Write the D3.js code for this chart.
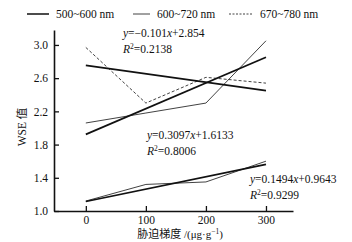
<!DOCTYPE html>
<html>
<head>
<meta charset="utf-8">
<script src="https://cdn.jsdelivr.net/npm/d3@7"></script>
<style>
    body { margin: 0; background: #fff; }
    svg { display: block; }
    svg text { font-family: "Liberation Serif", "Times New Roman", "Noto Sans CJK SC", serif; fill: #111; }
    .axis path, .axis line { stroke: #111; }
</style>
</head>
<body>
<div id="chart-area"></div>
<script>
// stress gradient levels
let doses = [0, 100, 200, 300];
let seriesNames = ["500~600 nm", "600~720 nm", "670~780 nm"];

// measured WSE values
let wse500 = [1.12, 1.32, 1.35, 1.60];
let wse600 = [2.06, 2.18, 2.30, 3.05];
let wse670 = [2.97, 2.30, 2.61, 2.54];

// fitted lines, value at dose 0 and dose 300
let trendEnds = [0, 300];
let fit500 = [1.114, 1.562];
let fit600 = [1.923, 2.852];
let fit670 = [2.753, 2.450];

let eq670 = ["y=−0.101x+2.854", "0.2138"];
let eq600 = ["y=0.3097x+1.6133", "0.8006"];
let eq500 = ["y=0.1494x+0.9643", "0.9299"];

let yTicks = [1.0, 1.4, 1.8, 2.2, 2.6, 3.0];

let width = 352, height = 242;

let svg = d3.select("#chart-area").append("svg")
    .attr("width", width)
    .attr("height", height);

let x = d3.scaleLinear().domain([-53, 345]).range([54, 293]);
let y = d3.scaleLinear().domain([1, 3.18]).range([211, 30]);

// axes
let xAxis = d3.axisBottom(x).tickValues(doses).tickSize(-5).tickSizeOuter(0).tickPadding(5);
let yAxis = d3.axisLeft(y).tickValues(yTicks).tickFormat(d3.format(".1f")).tickSize(-5).tickSizeOuter(0).tickPadding(6);

svg.append("g")
    .attr("class", "axis x-axis")
    .attr("transform", "translate(0," + y(1) + ")")
    .call(xAxis);

svg.append("g")
    .attr("class", "axis y-axis")
    .attr("transform", "translate(" + x(-53) + ",0)")
    .call(yAxis);

svg.selectAll(".axis").attr("font-family", null);
svg.selectAll(".axis path").attr("stroke-width", 1.6);
svg.selectAll(".axis line").attr("stroke-width", 1.3);
svg.selectAll(".axis text").style("font-size", "11.5px");

// axis titles
svg.append("text")
    .attr("x", 180)
    .attr("y", 238)
    .attr("text-anchor", "middle")
    .style("font-size", "11px")
    .html('胁迫梯度 /(μg·g<tspan baseline-shift="super" font-size="7.5px">−1</tspan>)');

svg.append("text")
    .attr("transform", "translate(26,127) rotate(-90)")
    .attr("text-anchor", "middle")
    .style("font-size", "11.5px")
    .text("WSE 值");

let line = d3.line()
    .x(d => x(d[0]))
    .y(d => y(d[1]));

// data lines
let dataSeries = [
    { vals: wse500, w: 0.8, dash: null },
    { vals: wse600, w: 0.8, dash: null },
    { vals: wse670, w: 0.8, dash: "3,2" }
];

dataSeries.forEach(function (s) {
    svg.append("path")
        .datum(doses.map((d, i) => [d, s.vals[i]]))
        .attr("d", line)
        .attr("fill", "none")
        .attr("stroke", "#111")
        .attr("stroke-width", s.w)
        .attr("stroke-dasharray", s.dash);
});

// fit lines
[fit500, fit600, fit670].forEach(function (f) {
    svg.append("path")
        .datum(trendEnds.map((d, i) => [d, f[i]]))
        .attr("d", line)
        .attr("fill", "none")
        .attr("stroke", "#111")
        .attr("stroke-width", 1.7);
});

// equations
function addEq(eq, ex, ey) {
    let t = svg.append("text")
        .attr("x", ex)
        .attr("y", ey)
        .style("font-size", "11.5px");
    let parts = eq[0].split("x");
    t.append("tspan").style("font-style", "italic").text("y");
    t.append("tspan").text(parts[0].slice(1));
    t.append("tspan").style("font-style", "italic").text("x");
    t.append("tspan").text(parts[1]);

    let r = svg.append("text")
        .attr("x", ex)
        .attr("y", ey + 16)
        .style("font-size", "11.5px");
    r.append("tspan").style("font-style", "italic").text("R");
    r.append("tspan").attr("baseline-shift", "super").style("font-size", "7.5px").text("2");
    r.append("tspan").text("=" + eq[1]);
}

addEq(eq670, 123, 37);
addEq(eq600, 147, 139);
addEq(eq500, 250, 183);

// legend
let legendX = [27, 133, 229];
let legendLen = [22, 17, 24];
let legendStyle = [
    { w: 1.5, dash: null },
    { w: 0.8, dash: null },
    { w: 0.8, dash: "2,1.5" }
];

seriesNames.forEach(function (name, i) {
    svg.append("line")
        .attr("x1", legendX[i])
        .attr("x2", legendX[i] + legendLen[i])
        .attr("y1", 14)
        .attr("y2", 14)
        .attr("stroke", "#111")
        .attr("stroke-width", legendStyle[i].w)
        .attr("stroke-dasharray", legendStyle[i].dash);

    svg.append("text")
        .attr("x", legendX[i] + legendLen[i] + 7)
        .attr("y", 18)
        .style("font-size", "11.5px")
        .text(name);
});
</script>
</body>
</html>
